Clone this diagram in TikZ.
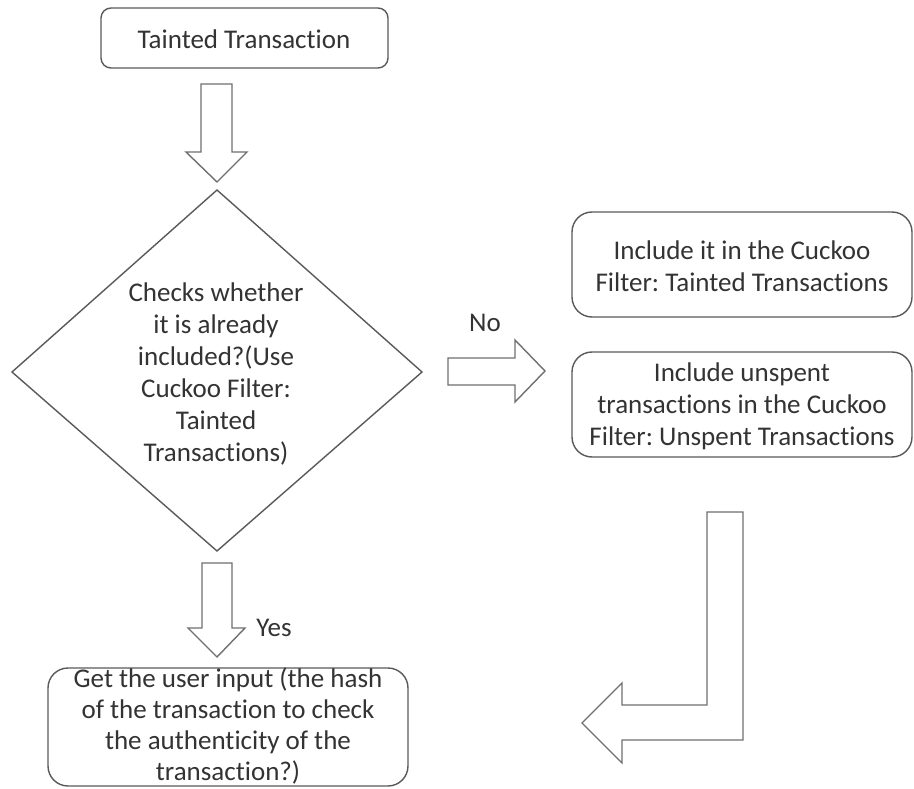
\documentclass[tikz,border=0pt]{standalone}
\usepackage{fontspec}
\setmainfont{Carlito}[Ligatures=NoCommon]
\usetikzlibrary{calc}
\definecolor{inkgray}{HTML}{333333}
\definecolor{edgegray}{HTML}{5A5A5A}
\definecolor{arrowgray}{HTML}{707070}
\tikzset{
  txt/.style={font=\fontsize{27}{32}\selectfont\frenchspacing, text=inkgray, align=center, inner sep=0pt},
  boxline/.style={draw=edgegray, line width=1.4pt},
  blockarrow/.style={draw=arrowgray, line width=1.4pt, fill=white, line join=miter},
}
\begin{document}
\begin{tikzpicture}[x=1pt,y=-1pt]
\useasboundingbox (0,0) rectangle (914,789);
\fill[white] (0,0) rectangle (914,789);

% start box
\draw[boxline, rounded corners=10pt] (101,8) rectangle (388,68);
\node[txt] (start) at (244,39) {Tainted Transaction};

% down arrow into the decision
\draw[blockarrow] (201,84) -- (232,84) -- (232,152) -- (247,152) -- (217,182)
  -- (186,152) -- (201,152) -- cycle;

% decision diamond
\node[txt] (check) at (216,374) {Checks whether\\it is already\\included?(Use\\Cuckoo Filter:\\Tainted\\Transactions)};
\draw[boxline] (217,190) -- (422,372) -- (217,551) -- (12,372) -- cycle;

% "No" branch arrow
\draw[blockarrow] (448,358) -- (515,358) -- (515,340) -- (545,371) -- (515,402)
  -- (515,385) -- (448,385) -- cycle;
\node[txt] (nolabel) at (485,323) {No};

% right-hand boxes
\draw[boxline, rounded corners=20pt] (572,212) rectangle (912,317);
\node[txt] (addtaint) at (742,266) {Include it in the Cuckoo\\Filter: Tainted Transactions};
\draw[boxline, rounded corners=20pt] (572,352) rectangle (912,457);
\node[txt] (addunspent) at (742,406) {Include unspent\\transactions in the Cuckoo\\Filter: Unspent Transactions};

% return arrow (bent)
\draw[blockarrow] (707,512) -- (743,512) -- (743,740) -- (622,740) -- (622,763)
  -- (582,723) -- (622,683) -- (622,705) -- (707,705) -- cycle;

% "Yes" branch arrow
\draw[blockarrow] (202,563) -- (232,563) -- (232,628) -- (245,628) -- (217,657)
  -- (188,628) -- (202,628) -- cycle;
\node[txt] (yeslabel) at (274,628) {Yes};

% user input box
\draw[boxline, rounded corners=20pt] (48,668) rectangle (408,786);
\node[txt, font=\fontsize{27}{31}\selectfont\frenchspacing] (input) at (228,726) {Get the user input (the hash\\of the transaction to check\\the authenticity of the\\transaction?)};
\end{tikzpicture}
\end{document}
